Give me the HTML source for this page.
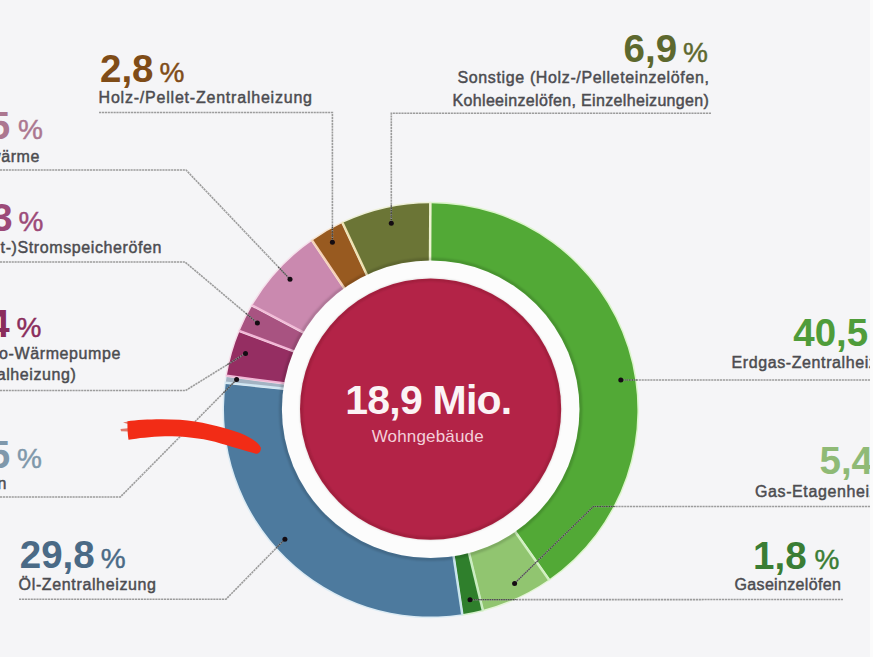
<!DOCTYPE html>
<html><head><meta charset="utf-8">
<style>
html,body{margin:0;padding:0;background:#f5f5f7;}
body{width:873px;height:657px;overflow:hidden;position:relative;}
svg{position:absolute;left:0;top:0;}
text{font-family:"Liberation Sans",sans-serif;}
.big{font-weight:bold;font-size:38.5px;}
.pct{font-size:28px;font-weight:normal;stroke-width:0.45px;}
.lab{font-size:16px;fill:#4c4c50;stroke:#4c4c50;stroke-width:0.45px;letter-spacing:0.6px;}
</style></head><body>
<svg width="873" height="657" viewBox="0 0 873 657">
<defs>
<clipPath id="ann"><path clip-rule="evenodd" d="M222.0,409.3 a208.7,208.7 0 1 0 417.4,0 a208.7,208.7 0 1 0 -417.4,0 Z M281.9,409.3 a148.8,148.8 0 1 0 297.6,0 a148.8,148.8 0 1 0 -297.6,0 Z"/></clipPath>
<filter id="bl" x="-10%" y="-10%" width="120%" height="120%"><feGaussianBlur stdDeviation="0.9"/></filter>
</defs>
<rect x="0" y="0" width="873" height="657" fill="#f5f5f7"/>

<path d="M430.10,203.20 A206.7,206.7 0 0 1 548.66,579.64 L514.48,531.06 A147.8,147.8 0 0 0 429.80,261.50 Z" fill="none" stroke="#dcf5cc" stroke-width="3" stroke-linejoin="round"/><path d="M430.10,203.20 A206.7,206.7 0 0 1 548.66,579.64 L514.48,531.06 A147.8,147.8 0 0 0 429.80,261.50 Z" fill="#52a936"/>
<path d="M548.66,579.64 A206.7,206.7 0 0 1 482.53,610.00 L468.54,552.17 A147.8,147.8 0 0 0 514.48,531.06 Z" fill="none" stroke="#e4f5d8" stroke-width="3" stroke-linejoin="round"/><path d="M548.66,579.64 A206.7,206.7 0 0 1 482.53,610.00 L468.54,552.17 A147.8,147.8 0 0 0 514.48,531.06 Z" fill="#91c570"/>
<path d="M482.53,610.00 A206.7,206.7 0 0 1 461.99,614.22 L453.23,555.37 A147.8,147.8 0 0 0 468.54,552.17 Z" fill="none" stroke="#d6f0cc" stroke-width="3" stroke-linejoin="round"/><path d="M482.53,610.00 A206.7,206.7 0 0 1 461.99,614.22 L453.23,555.37 A147.8,147.8 0 0 0 468.54,552.17 Z" fill="#2f7f2c"/>
<path d="M461.99,614.22 A206.7,206.7 0 0 1 225.82,382.53 L284.38,388.44 A147.8,147.8 0 0 0 453.23,555.37 Z" fill="none" stroke="#dcebf4" stroke-width="3" stroke-linejoin="round"/><path d="M461.99,614.22 A206.7,206.7 0 0 1 225.82,382.53 L284.38,388.44 A147.8,147.8 0 0 0 453.23,555.37 Z" fill="#4d7a9e"/>
<path d="M225.82,382.53 A206.7,206.7 0 0 1 226.86,375.61 L285.20,383.33 A147.8,147.8 0 0 0 284.38,388.44 Z" fill="none" stroke="#e6eef4" stroke-width="3" stroke-linejoin="round"/><path d="M225.82,382.53 A206.7,206.7 0 0 1 226.86,375.61 L285.20,383.33 A147.8,147.8 0 0 0 284.38,388.44 Z" fill="#a3b3c3"/>
<path d="M226.86,375.61 A206.7,206.7 0 0 1 239.74,330.79 L294.71,351.40 A147.8,147.8 0 0 0 285.20,383.33 Z" fill="none" stroke="#f6dce8" stroke-width="3" stroke-linejoin="round"/><path d="M226.86,375.61 A206.7,206.7 0 0 1 239.74,330.79 L294.71,351.40 A147.8,147.8 0 0 0 285.20,383.33 Z" fill="#952e62"/>
<path d="M239.74,330.79 A206.7,206.7 0 0 1 252.42,305.30 L304.30,332.69 A147.8,147.8 0 0 0 294.71,351.40 Z" fill="none" stroke="#f6dce8" stroke-width="3" stroke-linejoin="round"/><path d="M239.74,330.79 A206.7,206.7 0 0 1 252.42,305.30 L304.30,332.69 A147.8,147.8 0 0 0 294.71,351.40 Z" fill="#a85381"/>
<path d="M252.42,305.30 A206.7,206.7 0 0 1 312.37,240.42 L345.01,288.88 A147.8,147.8 0 0 0 304.30,332.69 Z" fill="none" stroke="#f6e2ec" stroke-width="3" stroke-linejoin="round"/><path d="M252.42,305.30 A206.7,206.7 0 0 1 312.37,240.42 L345.01,288.88 A147.8,147.8 0 0 0 304.30,332.69 Z" fill="#ca89af"/>
<path d="M312.37,240.42 A206.7,206.7 0 0 1 342.80,222.82 L367.52,275.68 A147.8,147.8 0 0 0 345.01,288.88 Z" fill="none" stroke="#f6e6d4" stroke-width="3" stroke-linejoin="round"/><path d="M312.37,240.42 A206.7,206.7 0 0 1 342.80,222.82 L367.52,275.68 A147.8,147.8 0 0 0 345.01,288.88 Z" fill="#985a20"/>
<path d="M342.80,222.82 A206.7,206.7 0 0 1 430.10,203.20 L429.80,261.50 A147.8,147.8 0 0 0 367.52,275.68 Z" fill="none" stroke="#eef0d8" stroke-width="3" stroke-linejoin="round"/><path d="M342.80,222.82 A206.7,206.7 0 0 1 430.10,203.20 L429.80,261.50 A147.8,147.8 0 0 0 367.52,275.68 Z" fill="#6b7536"/>
<line x1="429.80" y1="261.50" x2="430.10" y2="202.70" stroke="#eef3d0" stroke-width="2"/>
<line x1="514.48" y1="531.06" x2="548.94" y2="580.05" stroke="#d0f0c0" stroke-width="2"/>
<line x1="468.54" y1="552.17" x2="482.65" y2="610.48" stroke="#c8ecc0" stroke-width="2"/>
<line x1="453.23" y1="555.37" x2="462.06" y2="614.71" stroke="#c8e4ec" stroke-width="2"/>
<line x1="284.38" y1="388.44" x2="225.32" y2="382.48" stroke="#d0e6f2" stroke-width="2"/>
<line x1="285.20" y1="383.33" x2="226.37" y2="375.55" stroke="#f0b8d6" stroke-width="2"/>
<line x1="294.71" y1="351.40" x2="239.27" y2="330.61" stroke="#f2b6d6" stroke-width="2"/>
<line x1="304.30" y1="332.69" x2="251.98" y2="305.07" stroke="#f2bcd8" stroke-width="2"/>
<line x1="345.01" y1="288.88" x2="312.09" y2="240.00" stroke="#f6d0b8" stroke-width="2"/>
<line x1="367.52" y1="275.68" x2="342.59" y2="222.37" stroke="#efe2b0" stroke-width="2"/>
<circle cx="430.7" cy="409.3" r="148.8" fill="#fcfcfc"/>
<g clip-path="url(#ann)"><circle cx="430.7" cy="409.3" r="150.0" fill="none" stroke="rgba(0,0,0,0.16)" stroke-width="3" filter="url(#bl)"/></g>
<circle cx="430.6" cy="409.1" r="130.6" fill="#b32347"/>
<circle cx="430.6" cy="409.1" r="129.29999999999998" fill="none" stroke="rgba(60,0,20,0.18)" stroke-width="2.6" filter="url(#bl)"/>
<text x="428.7" y="414.2" text-anchor="middle" font-size="41" font-weight="bold" fill="#fbf3f5" textLength="167" lengthAdjust="spacing">18,9 Mio.</text>
<text x="427.7" y="441.9" text-anchor="middle" font-size="17" fill="#f3cfda" textLength="112" lengthAdjust="spacing">Wohngebäude</text>
<g fill="none" stroke="#9c9c9c" stroke-width="1.6" stroke-dasharray="2.2 0.7">
<polyline points="99,112.5 332.4,112.5 332.4,242.2"/>
<polyline points="711,113.2 391.3,113.2 391.3,223.2"/>
<polyline points="0,170 186,170 290,279.2"/>
<polyline points="0,262 185,262 257.4,323"/>
<polyline points="0,390.5 185.6,390.5 245.5,353.4"/>
<polyline points="0,497 120.3,497 236.6,379.6"/>
<polyline points="19,599.2 226,599.2 284.9,539.2"/>
<polyline points="870,380 620.8,380"/>
<polyline points="870,506.5 593.4,506.5 514.6,583.4"/>
<polyline points="843,599.5 470,599.7"/>
</g>
<g fill="none" stroke="rgba(0,0,0,0.5)" stroke-width="1.2" stroke-dasharray="1.6 0.7" clip-path="url(#ann)">
<polyline points="99,112.5 332.4,112.5 332.4,242.2"/>
<polyline points="711,113.2 391.3,113.2 391.3,223.2"/>
<polyline points="0,170 186,170 290,279.2"/>
<polyline points="0,262 185,262 257.4,323"/>
<polyline points="0,390.5 185.6,390.5 245.5,353.4"/>
<polyline points="0,497 120.3,497 236.6,379.6"/>
<polyline points="19,599.2 226,599.2 284.9,539.2"/>
<polyline points="870,380 620.8,380"/>
<polyline points="870,506.5 593.4,506.5 514.6,583.4"/>
<polyline points="843,599.5 470,599.7"/>
</g>
<g fill="#140c12">
<circle cx="332.4" cy="242.2" r="2.5"/>
<circle cx="391.3" cy="223.2" r="2.5"/>
<circle cx="290" cy="279.2" r="2.5"/>
<circle cx="257.4" cy="323" r="2.5"/>
<circle cx="245.5" cy="353.4" r="2.5"/>
<circle cx="236.6" cy="379.6" r="2.5"/>
<circle cx="284.9" cy="539.2" r="2.5"/>
<circle cx="620.8" cy="380" r="2.5"/>
<circle cx="514.6" cy="583.4" r="2.5"/>
<circle cx="470" cy="599.7" r="2.5"/>
</g>
<text x="100" y="81.7" class="big" fill="#7f4c17">2,8<tspan class="pct" dx="6" stroke="#7f4c17">%</tspan></text>
<text x="98.6" y="102.5" class="lab" textLength="214" lengthAdjust="spacing">Holz-/Pellet-Zentralheizung</text>
<text x="708" y="61.5" class="big" fill="#5d682e" text-anchor="end">6,9<tspan class="pct" dx="6" stroke="#5d682e">%</tspan></text>
<text x="709.5" y="83" class="lab" text-anchor="end" textLength="252" lengthAdjust="spacing">Sonstige (Holz-/Pelleteinzelöfen,</text>
<text x="709.5" y="105.7" class="lab" text-anchor="end" textLength="257" lengthAdjust="spacing">Kohleeinzelöfen, Einzelheizungen)</text>
<text x="43" y="139" class="big" fill="#ac7790" text-anchor="end">6,5<tspan class="pct" dx="8" stroke="#ac7790">%</tspan></text>
<text x="40" y="161.5" class="lab" text-anchor="end">Fernwärme</text>
<text x="43.5" y="230.5" class="big" fill="#9c4a78" text-anchor="end">2,3<tspan class="pct" dx="6" stroke="#9c4a78">%</tspan></text>
<text x="162" y="252.7" class="lab" text-anchor="end">(Nacht-)Stromspeicheröfen</text>
<text x="41.5" y="336.7" class="big" fill="#8a2d5c" text-anchor="end">3,4<tspan class="pct" dx="7" stroke="#8a2d5c">%</tspan></text>
<text x="121" y="359" class="lab" text-anchor="end">Elektro-Wärmepumpe</text>
<text x="76.5" y="380.2" class="lab" text-anchor="end">(Zentralheizung)</text>
<text x="42" y="467.5" class="big" fill="#7f98ab" text-anchor="end">0,5<tspan class="pct" dx="7" stroke="#7f98ab">%</tspan></text>
<text x="7" y="489" class="lab" text-anchor="end">Öl-Einzelöfen</text>
<text x="19.8" y="568.2" class="big" fill="#4a6a86">29,8<tspan class="pct" dx="6" stroke="#4a6a86">%</tspan></text>
<text x="18.6" y="590" class="lab" textLength="138" lengthAdjust="spacing">Öl-Zentralheizung</text>
<text x="793.3" y="345.6" class="big" fill="#4f9c3a">40,5<tspan class="pct" dx="6" stroke="#4f9c3a">%</tspan></text>
<text x="731.5" y="367.5" class="lab">Erdgas-Zentralheizung</text>
<text x="819.5" y="473.6" class="big" fill="#8fba76">5,4<tspan class="pct" dx="6" stroke="#8fba76">%</tspan></text>
<text x="755" y="497" class="lab">Gas-Etagenheizung</text>
<text x="839.5" y="569.3" class="big" fill="#3a7d34" text-anchor="end">1,8<tspan class="pct" dx="8" stroke="#3a7d34">%</tspan></text>
<text x="841.5" y="590.4" class="lab" text-anchor="end" textLength="107" lengthAdjust="spacing">Gaseinzelöfen</text>
<path d="M127.5,421.2 C140,419.5 160,418.6 180,419.8 C200,421.3 220,426.3 240,433 C250,437 258,442 260.8,447.5 C261.3,451 259,454 256,453.7 C245,450.8 230,446.3 215,441.8 C200,438.2 185,436.3 165,436.3 C150,436.8 138,438.3 128.5,439.8 C127.6,434 127.3,427 127.5,421.2 Z" fill="#f22c16"/>
<path d="M120.5,429 L128,428.3 L128,431.5 L121,431.3 Z M123,422.5 L128,421.5 L128,424 Z" fill="#d8442e" opacity="0.7"/>
<rect x="870" y="0" width="3" height="657" fill="#fbfbfb"/>
</svg>
</body></html>
